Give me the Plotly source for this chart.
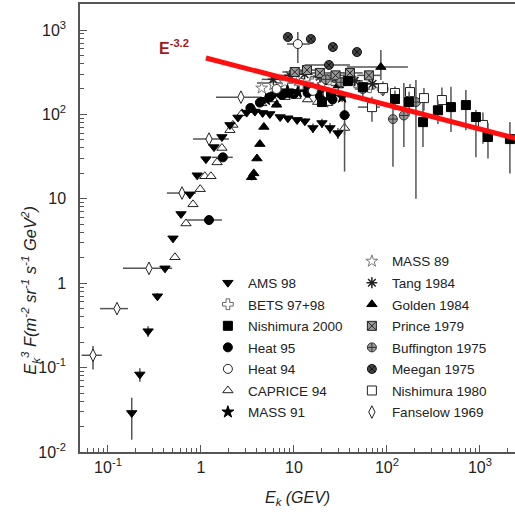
import plotly.graph_objects as go

# ---------------- data ----------------
ams_E = [0.18, 0.22, 0.27, 0.34, 0.41, 0.50, 0.61, 0.76, 0.91, 1.13, 1.38, 1.68, 2.05, 2.5, 3.1, 3.8,
         4.6, 5.5, 7.1, 8.6, 10.8, 13.1, 16.0, 20.0, 24.4, 29.7]
ams_v = [0.029, 0.083, 0.27, 0.70, 1.5, 3.4, 6.6, 11.3, 19, 29.5, 41, 54, 75, 92, 105, 108,
         104, 101, 93, 90, 86, 83, 69, 79, 69, 60]
ams_dv = [0.015, 0.015, 0.04, 0.06, 0.08, 0.15, 0.3, 0.5, 0.8, 1.2, 1.6, 2.2, 3, 4, 4, 4,
          4, 4, 5, 5, 6, 7, 9, 10, 10, 9]

fan_E = [0.069, 0.125, 0.276, 0.625, 1.22, 2.69, 5.9]
fan_v = [0.14, 0.50, 1.5, 11.7, 51, 160, 235]
fan_Elo = [0.052, 0.082, 0.145, 0.43, 0.82, 1.45, 4.0]
fan_Ehi = [0.086, 0.164, 0.49, 0.88, 2.0, 4.5, 9.8]
fan_dvm = [0.045, 0.05, 0.1, 0.6, 3, 10, 15]
fan_dvp = [0.04, 0.05, 0.1, 0.6, 3, 10, 15]

heat95_E = [1.22, 1.72, 3.4, 4.3, 5.5, 7.5, 10, 14, 19, 26, 35]
heat95_v = [5.6, 31, 119, 138, 160, 170, 175, 180, 165, 150, 98]
heat95_Elo = [0.71, 1.31, 3.1, 3.9, 5.0, 6.8, 9.0, 12.5, 17, 23, 31]
heat95_Ehi = [1.68, 2.2, 3.8, 4.8, 6.1, 8.3, 11, 15.5, 21, 29, 40]
heat95_dvm = [0.3, 2, 6, 7, 8, 9, 10, 12, 14, 16, 77]
heat95_dvp = [0.3, 2, 6, 7, 8, 9, 10, 12, 14, 16, 60]

heat94_E = [6.5, 11.0, 16, 23]
heat94_v = [200, 682, 190, 175]
heat94_Elo = [5.8, 8.4, 14, 20]
heat94_Ehi = [7.3, 14.9, 18, 26]
heat94_dvm = [15, 276, 20, 22]
heat94_dvp = [15, 264, 20, 22]

cap_E = [0.525, 0.69, 0.82, 0.98, 1.1, 1.28, 1.49, 1.68, 2.05, 2.2, 2.76, 3.5, 4.5, 6.0, 8.0,
         10.5, 14, 18, 23, 35]
cap_v = [2.03, 5.1, 8.6, 13, 18.5, 18.5, 27, 40, 65, 75, 103, 120, 135, 150, 160,
         165, 150, 140, 136, 69]
cap_dv = [0.15, 0.3, 0.5, 0.7, 1, 1, 1.5, 2, 3, 4, 5, 6, 7, 8, 9, 10, 10, 12, 15, 12]

mass91_E = [5.0, 6.5, 8.5, 11, 14, 19, 25, 33]
mass91_v = [150, 175, 190, 185, 200, 180, 170, 160]
mass91_dv = [8, 9, 10, 10, 12, 14, 16, 20]

mass89_E = [4.5, 6.0, 8.0, 11, 15, 20]
mass89_v = [205, 225, 240, 250, 235, 230]
mass89_dv = [10, 12, 14, 16, 18, 22]

tang_E = [6.0, 9.0, 13, 19, 28, 45, 70]
tang_v = [260, 290, 300, 280, 270, 250, 230]
tang_Elo = [4.5, 7.0, 10, 15, 22, 35, 55]
tang_Ehi = [7.5, 11, 16, 23, 35, 55, 90]
tang_dv = [20, 20, 22, 24, 26, 30, 35]

gold_E = [3.5, 3.7, 4.0, 4.3, 4.75, 6.5, 9.0, 13, 20, 30, 86]
gold_v = [18, 20, 30, 44.5, 71, 130, 170, 200, 240, 220, 364]
gold_Elo = [3.4, 3.6, 3.9, 4.2, 4.6, 5.8, 7.8, 11, 17, 25, 37]
gold_Ehi = [3.6, 3.8, 4.1, 4.4, 4.9, 7.3, 10.5, 15, 24, 36, 168]
gold_dvm = [1.5, 1.5, 2, 3, 4, 10, 14, 18, 25, 30, 109]
gold_dvp = [1.5, 1.5, 2, 3, 4, 10, 14, 18, 25, 30, 216]

prince_E = [10.2, 13.8, 19, 28, 40, 64]
prince_v = [318, 335, 310, 290, 310, 290]
prince_Elo = [7.5, 10.5, 14, 21, 28, 48]
prince_Ehi = [13, 18, 25, 36, 55, 85]
prince_dv = [25, 25, 25, 28, 35, 40]

buff_E = [22, 32, 55, 116, 152, 205]
buff_v = [260, 240, 200, 88, 97, 140]
buff_Elo = [17, 26, 45, 105, 140, 190]
buff_Ehi = [27, 39, 66, 128, 165, 222]
buff_dvm = [30, 35, 40, 64, 56, 130]
buff_dvp = [30, 35, 40, 72, 138, 115]

meeg_E = [8.6, 15.2, 23.8, 26.2, 47.6]
meeg_v = [826, 782, 385, 628, 548]
meeg_Elo = [7.8, 13.8, 13, 24, 43.5]
meeg_Ehi = [9.4, 16.6, 40, 28.5, 52]
meeg_dv = [70, 65, 35, 55, 50]

nis00_E = [20, 25, 38, 55, 122, 173, 244, 353, 488, 706, 905, 1220, 2100]
nis00_v = [140, 170, 248, 210, 152, 140, 81, 112, 122, 129, 93, 54, 51]
nis00_Elo = [18, 22.5, 34, 50, 110, 158, 222, 322, 440, 640, 820, 1100, 1900]
nis00_Ehi = [22, 27.5, 42, 60, 134, 188, 266, 385, 535, 770, 990, 1340, 2300]
nis00_dvm = [15, 18, 25, 25, 40, 45, 40, 35, 60, 64, 62, 24, 31]
nis00_dvp = [15, 18, 25, 25, 40, 45, 55, 35, 90, 66, 20, 25, 30]

nis80_E = [69, 90.6, 122, 177, 250, 390, 1077]
nis80_v = [122, 205, 179, 184, 156, 148, 75]
nis80_Elo = [48.6, 80, 108, 157, 222, 345, 950]
nis80_Ehi = [84, 102, 137, 199, 280, 440, 1210]
nis80_dvm = [40, 40, 35, 40, 45, 50, 30]
nis80_dvp = [40, 40, 35, 45, 50, 60, 30]

bets_E = [12, 17, 24, 33, 46, 65, 90]
bets_v = [230, 250, 260, 270, 240, 210, 200]
bets_dv = [15, 18, 20, 25, 25, 30, 35]

# power-law guide line E^-3.2 (drawn as E^3 F)
line_E = [1.13, 3000]
line_v = [466, 49]
line_label = "<b>E<sup>-3.2</sup></b>"

xtick_vals = [0.1, 1, 10, 100, 1000]
xtick_text = ["10<sup>-1</sup>", "1", "10", "10<sup>2</sup>", "10<sup>3</sup>"]
ytick_vals = [0.01, 0.1, 1, 10, 100, 1000]
ytick_text = ["10<sup>-2</sup>", "10<sup>-1</sup>", "1", "10", "10<sup>2</sup>", "10<sup>3</sup>"]

# ---------------- figure ----------------
EB = "#555555"
fig = go.Figure()


def add(name, E, v, symbol, fill, line_col, legend, Elo=None, Ehi=None,
        dvm=None, dvp=None, size=9, lw=1):
    ex = None
    if Elo is not None:
        ex = dict(type="data", symmetric=False,
                  array=[h - e for h, e in zip(Ehi, E)],
                  arrayminus=[e - l for e, l in zip(E, Elo)],
                  color=EB, thickness=1.5, width=0)
    ey = None
    if dvm is not None:
        ey = dict(type="data", symmetric=False,
                  array=dvp if dvp is not None else dvm, arrayminus=dvm,
                  color=EB, thickness=1.5, width=0)
    fig.add_trace(go.Scatter(
        x=E, y=v, mode="markers", name=name, legend=legend, legendgroup=name,
        marker=dict(symbol=symbol, size=size, color=fill,
                    line=dict(color=line_col, width=lw)),
        error_x=ex, error_y=ey))


add("Fanselow 1969", fan_E, fan_v, "diamond-tall", "white", "#222", "legend2",
    fan_Elo, fan_Ehi, fan_dvm, fan_dvp)
add("CAPRICE 94", cap_E, cap_v, "triangle-up", "white", "#222", "legend",
    dvm=cap_dv)
add("AMS 98", ams_E, ams_v, "triangle-down", "black", "black", "legend",
    dvm=ams_dv)
add("Heat 95", heat95_E, heat95_v, "circle", "black", "black", "legend",
    heat95_Elo, heat95_Ehi, heat95_dvm, heat95_dvp)
add("Golden 1984", gold_E, gold_v, "triangle-up", "black", "black", "legend2",
    gold_Elo, gold_Ehi, gold_dvm, gold_dvp)
add("MASS 89", mass89_E, mass89_v, "star", "white", "#777", "legend2",
    dvm=mass89_dv)
add("MASS 91", mass91_E, mass91_v, "star", "black", "black", "legend",
    dvm=mass91_dv)
add("BETS 97+98", bets_E, bets_v, "cross", "white", "#666", "legend",
    dvm=bets_dv)
add("Tang 1984", tang_E, tang_v, "asterisk-open", "#222", "#222", "legend2",
    tang_Elo, tang_Ehi, tang_dv, lw=1.5)
add("Prince 1979", prince_E, prince_v, "square-x", "#999", "#222", "legend2",
    prince_Elo, prince_Ehi, prince_dv)
add("Buffington 1975", buff_E, buff_v, "circle-cross", "#999", "#333", "legend2",
    buff_Elo, buff_Ehi, buff_dvm, buff_dvp)
add("Meegan 1975", meeg_E, meeg_v, "circle-x", "#444", "#111", "legend2",
    meeg_Elo, meeg_Ehi, meeg_dv)
add("Heat 94", heat94_E, heat94_v, "circle", "white", "#222", "legend",
    heat94_Elo, heat94_Ehi, heat94_dvm, heat94_dvp)
add("Nishimura 1980", nis80_E, nis80_v, "square", "white", "#222", "legend2",
    nis80_Elo, nis80_Ehi, nis80_dvm, nis80_dvp)
add("Nishimura 2000", nis00_E, nis00_v, "square", "black", "black", "legend",
    nis00_Elo, nis00_Ehi, nis00_dvm, nis00_dvp)

fig.add_trace(go.Scatter(x=line_E, y=line_v, mode="lines", showlegend=False,
                         line=dict(color="#ff1010", width=5), hoverinfo="skip"))

# legend ordering
left_order = ["AMS 98", "BETS 97+98", "Nishimura 2000", "Heat 95", "Heat 94",
              "CAPRICE 94", "MASS 91"]
right_order = ["MASS 89", "Tang 1984", "Golden 1984", "Prince 1979",
               "Buffington 1975", "Meegan 1975", "Nishimura 1980", "Fanselow 1969"]
for tr in fig.data:
    if tr.name in left_order:
        tr.legendrank = left_order.index(tr.name) + 1
    elif tr.name in right_order:
        tr.legendrank = right_order.index(tr.name) + 1

FONT = "Liberation Sans, Arial, sans-serif"
AX = "#555555"

minor_x = [m * 10 ** k for k in range(-2, 4) for m in range(2, 10)]
minor_y = [m * 10 ** k for k in range(-2, 4) for m in range(2, 10)]

leg_common = dict(font=dict(family=FONT, size=13.5, color="#222"),
                  bgcolor="rgba(0,0,0,0)", borderwidth=0, itemwidth=30,
                  tracegroupgap=1, traceorder="grouped", yanchor="top", xanchor="left")

fig.update_layout(
    width=515, height=512,
    margin=dict(l=80, r=0, t=4, b=60),
    paper_bgcolor="white", plot_bgcolor="white",
    font=dict(family=FONT, color="#222"),
    legend=dict(x=0.294, y=0.412, **leg_common),
    legend2=dict(x=0.625, y=0.46, **leg_common),
    xaxis=dict(type="log", range=[-1.301, 3.377], showgrid=False, zeroline=False,
               showline=True, linecolor=AX, linewidth=1.5, mirror=True,
               ticks="inside", ticklen=7, tickwidth=1, tickcolor=AX,
               tickmode="array", tickvals=xtick_vals, ticktext=xtick_text,
               tickfont=dict(family=FONT, size=16, color="#222"),
               minor=dict(ticks="inside", ticklen=4, tickcolor=AX, tickwidth=1,
                          tickmode="array", tickvals=minor_x, showgrid=False)),
    yaxis=dict(type="log", range=[-2, 3.308], showgrid=False, zeroline=False,
               showline=True, linecolor=AX, linewidth=1.5,
               ticks="inside", ticklen=7, tickwidth=1, tickcolor=AX,
               tickmode="array", tickvals=ytick_vals, ticktext=ytick_text,
               ticklabelstandoff=9,
               tickfont=dict(family=FONT, size=16, color="#222"),
               minor=dict(ticks="inside", ticklen=4, tickcolor=AX, tickwidth=1,
                          tickmode="array", tickvals=minor_y, showgrid=False)),
    annotations=[
        dict(text=line_label, xref="paper", yref="paper", x=0.215, y=0.905,
             showarrow=False, font=dict(family=FONT, size=16, color="#a01a1a"),
             xanchor="center", yanchor="middle"),
        dict(text="<i>E<sub>k</sub> (GEV)</i>", xref="paper", yref="paper",
             x=0.5, y=-0.078, showarrow=False, yanchor="top",
             font=dict(family=FONT, size=16, color="#222")),
        dict(text="<i>E<sub>k</sub><sup>3</sup> F(m<sup>-2</sup> sr<sup>-1</sup> s<sup>-1</sup> GeV<sup>2</sup>)</i>",
             xref="paper", yref="paper", x=-0.115, y=0.362, textangle=-90,
             showarrow=False, xanchor="center", yanchor="middle",
             font=dict(family=FONT, size=16.5, color="#222")),
    ],
)

fig.write_html("out.html")
